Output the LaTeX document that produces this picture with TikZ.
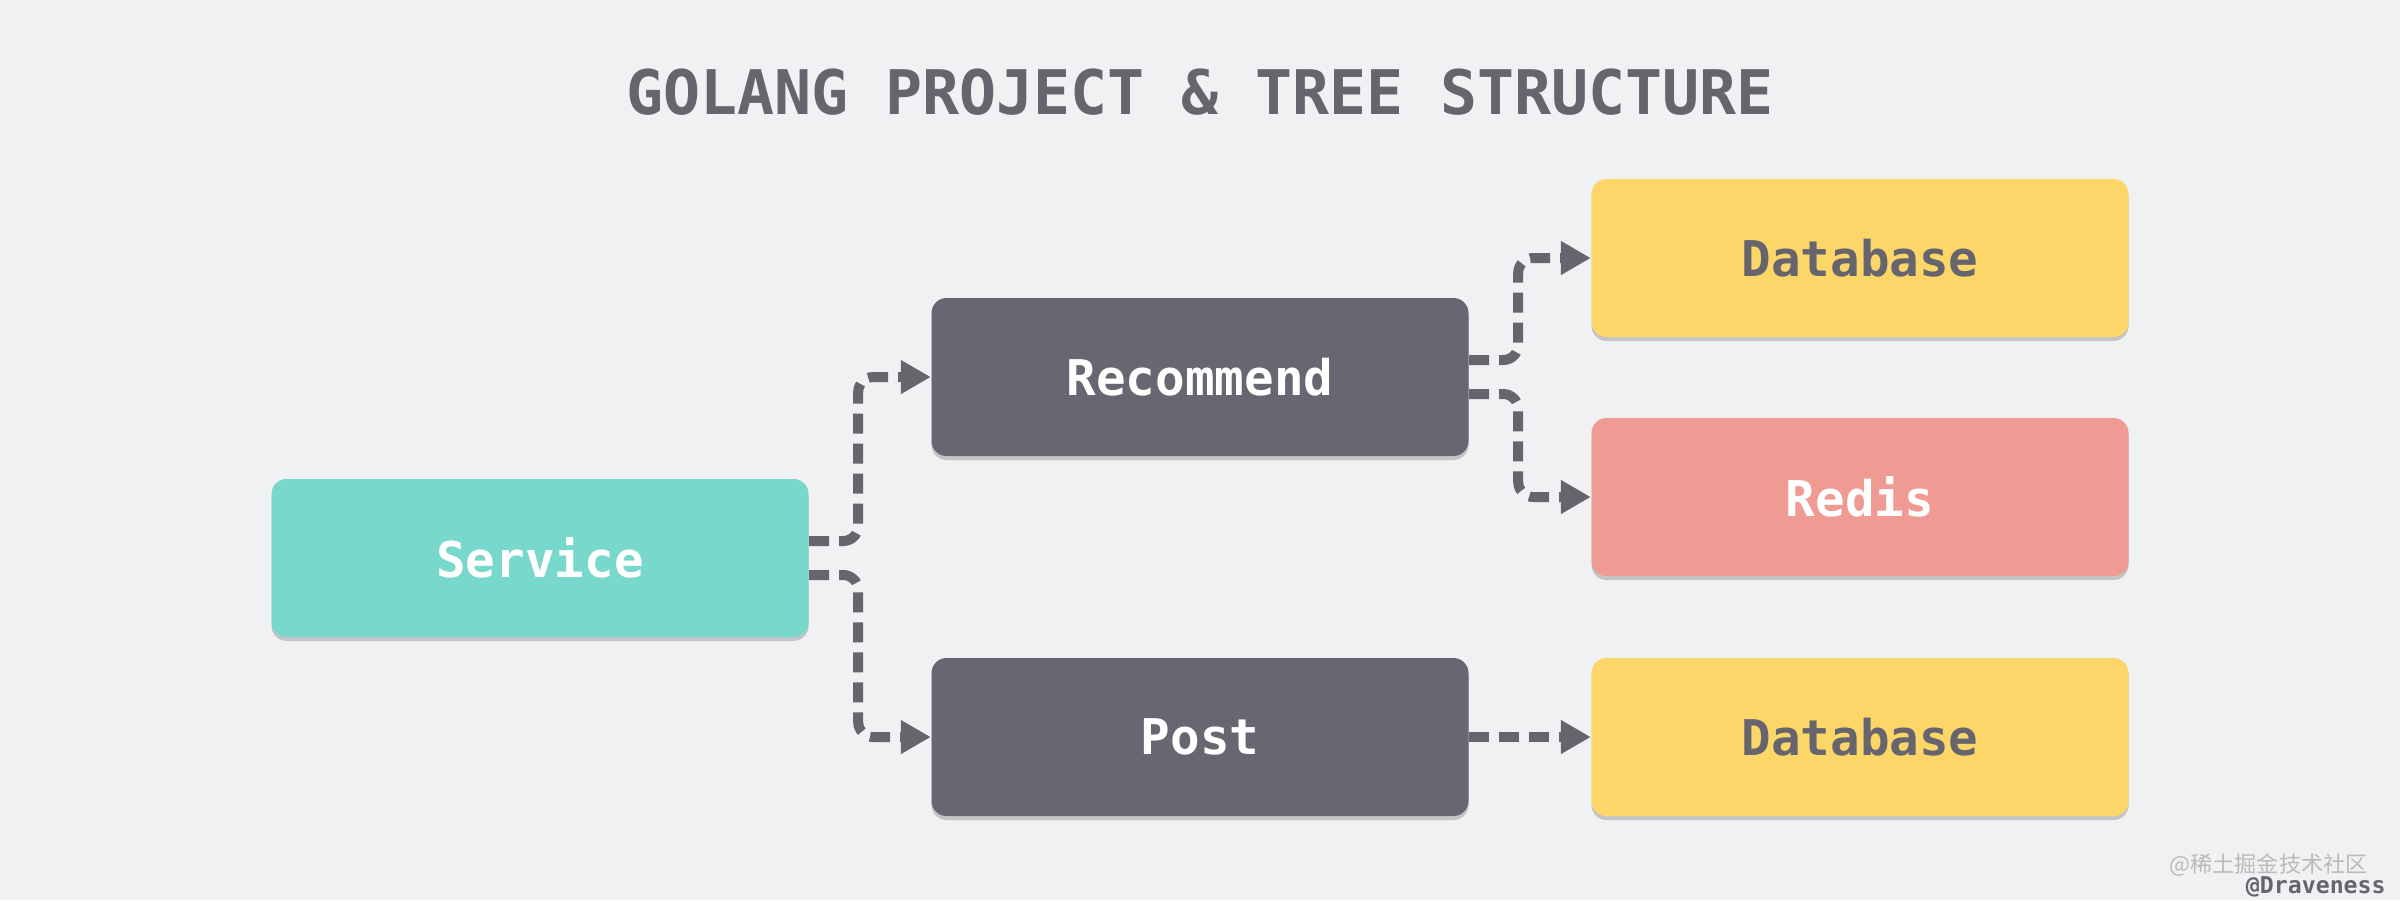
\documentclass[tikz,border=0pt]{standalone}
\usepackage{fontspec}
\setmonofont{DejaVu Sans Mono}
\newfontfamily\cjkfont{Noto Sans CJK SC}
\usetikzlibrary{arrows.meta,shadows}

\definecolor{bgcol}{HTML}{F0F1F3}
\definecolor{inkgray}{HTML}{66656D}
\definecolor{servicecol}{HTML}{78D8CB}
\definecolor{modulecol}{HTML}{686671}
\definecolor{dbcol}{HTML}{FCD669}
\definecolor{rediscol}{HTML}{EF9A93}

\tikzset{
	box/.style={rectangle, rounded corners=0.15cm, minimum width=5.37cm, minimum height=1.58cm,
		font=\ttfamily\bfseries\fontsize{14}{16}\selectfont, text=white,
		drop shadow={shadow xshift=0pt, shadow yshift=-0.04cm, opacity=0.18, fill=black}},
	flow/.style={-{Triangle[length=0.3cm, width=0.32cm]}, draw=inkgray, line width=0.1cm,
		dash pattern=on 0.2cm off 0.1cm, rounded corners=0.15cm}
}

\begin{document}
\begin{tikzpicture}
		
		% Canvas
		\fill[bgcol] (0, 0) rectangle (24, -9);
		\useasboundingbox (0, 0) rectangle (24, -9);
		
		% Title
		\node[text=inkgray, font=\ttfamily\bfseries\fontsize{17.5}{20}\selectfont] (title) at (12, -0.92) {GOLANG PROJECT \& TREE STRUCTURE};
		
		% Tree
		\node[box, fill=servicecol] (service) at (5.40, -5.58) {Service};
		\node[box, fill=modulecol] (recommend) at (12.00, -3.77) {Recommend};
		\node[box, fill=modulecol] (post) at (12.00, -7.37) {Post};
		\node[box, fill=dbcol, text=inkgray] (db1) at (18.60, -2.58) {Database};
		\node[box, fill=rediscol] (redis) at (18.60, -4.97) {Redis};
		\node[box, fill=dbcol, text=inkgray] (db2) at (18.60, -7.37) {Database};
		
		% Connect
		\draw[flow] ([yshift=0.17cm]service.east) -- ++(0.49, 0) |- (recommend.west);
		\draw[flow] ([yshift=-0.17cm]service.east) -- ++(0.49, 0) |- (post.west);
		\draw[flow] ([yshift=0.17cm]recommend.east) -- ++(0.49, 0) |- (db1.west);
		\draw[flow] ([yshift=-0.17cm]recommend.east) -- ++(0.49, 0) |- (redis.west);
		\draw[flow] (post.east) -- (db2.west);
		
		% Credits
		\node[text=inkgray!45, font=\cjkfont\fontsize{6.3}{7}\selectfont, anchor=east] (site) at (23.8, -8.65) {@稀土掘金技术社区};
		\node[text=inkgray, font=\ttfamily\bfseries\fontsize{6.6}{7.5}\selectfont, anchor=east] (author) at (23.98, -8.87) {@Draveness};
		
	\end{tikzpicture}
\end{document}
